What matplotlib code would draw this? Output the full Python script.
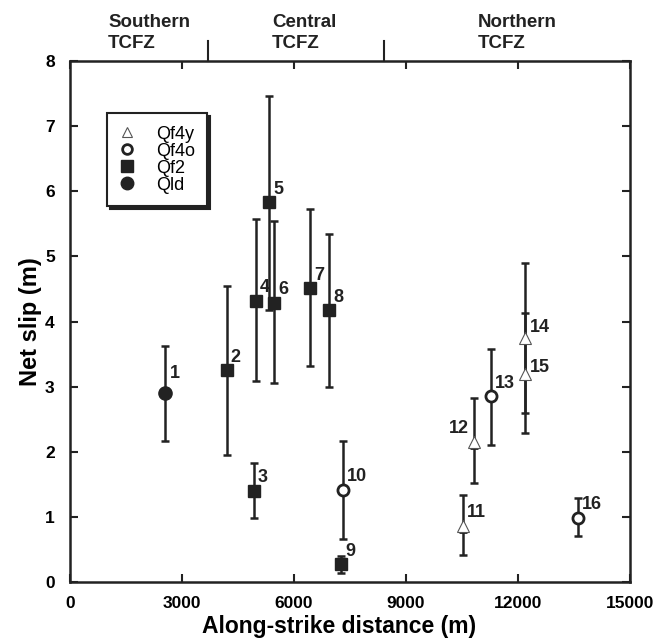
import matplotlib
matplotlib.use('Agg')
import matplotlib.pyplot as plt
from matplotlib.lines import Line2D
import matplotlib.transforms as mtransforms

plt.rcParams['font.family'] = ['Liberation Sans', 'DejaVu Sans']

# site data
site = ['1', '2', '3', '4', '5', '6', '7', '8', '9', '10', '11', '12', '13', '14', '15', '16']
dist = [2550, 4200, 4930, 4980, 5330, 5470, 6430, 6940, 7260, 7310, 10530, 10820, 11280, 12190, 12190, 13610]
slip = [2.90, 3.25, 1.40, 4.32, 5.83, 4.29, 4.51, 4.17, 0.27, 1.42, 0.86, 2.15, 2.85, 3.75, 3.20, 0.99]
slip_lo = [2.17, 1.95, 0.98, 3.08, 4.18, 3.05, 3.32, 3.00, 0.14, 0.66, 0.42, 1.52, 2.10, 2.60, 2.29, 0.71]
slip_hi = [3.62, 4.54, 1.83, 5.57, 7.47, 5.54, 5.72, 5.34, 0.40, 2.17, 1.34, 2.82, 3.58, 4.90, 4.13, 1.29]
unit = ['Qld', 'Qf2', 'Qf2', 'Qf2', 'Qf2', 'Qf2', 'Qf2', 'Qf2', 'Qf2', 'Qf4o',
        'Qf4y', 'Qf4y', 'Qf4o', 'Qf4y', 'Qf4y', 'Qf4o']

zones = ['Southern\nTCFZ', 'Central\nTCFZ', 'Northern\nTCFZ']
zone_text_x = [1020, 5410, 10930]
zone_bounds = [3700, 8400]

legend_order = ['Qf4y', 'Qf4o', 'Qf2', 'Qld']

c = '#222222'
styles = {
    'Qf4y': dict(marker='^', ms=8, mfc='white', mec='#555555', mew=0.8),
    'Qf4o': dict(marker='o', ms=8, mfc='white', mec=c, mew=2),
    'Qf2': dict(marker='s', ms=9, mfc=c, mec=c, mew=1),
    'Qld': dict(marker='o', ms=9.5, mfc=c, mec=c, mew=1),
}

# label offsets in pixels (dx, dy)
lab_off = {'1': (5, 20), '12': (-5, 13), '15': (5, 6), '14': (5, 10)}

fig = plt.figure(figsize=(6.57, 6.41), dpi=100)
ax = fig.add_axes([70 / 657, 59 / 641, 560 / 657, 521 / 641])

for i in range(len(site)):
    st = styles[unit[i]]
    ax.errorbar(dist[i], slip[i],
                yerr=[[slip[i] - slip_lo[i]], [slip_hi[i] - slip[i]]],
                fmt='none', ecolor=c, elinewidth=1.8, capsize=3, capthick=1.8, zorder=2)
    ax.plot(dist[i], slip[i], linestyle='none', zorder=3, **st)
    if unit[i] == 'Qf4y':
        # small cap drawn at base of the triangle
        tr = mtransforms.offset_copy(ax.transData, fig=fig, x=0, y=-4, units='points')
        ax.plot(dist[i], slip[i], marker='_', ms=6, mew=2, color=c, transform=tr, zorder=2)
    dx, dy = lab_off.get(site[i], (4, 13))
    ha = 'right' if dx < 0 else 'left'
    ax.annotate(site[i], (dist[i], slip[i]), xytext=(dx, dy), textcoords='offset pixels',
                ha=ha, va='center', fontsize=13, fontweight='bold', color=c)

ax.set_xlim(0, 15000)
ax.set_ylim(0, 8)
ax.set_xticks([0, 3000, 6000, 9000, 12000, 15000])
ax.set_yticks(range(0, 9))
ax.tick_params(direction='in', top=True, right=True, length=6, width=1.5, color=c,
               labelsize=12.5)
ax.tick_params(axis='x', pad=10)
ax.tick_params(axis='y', pad=11)
for lab in ax.get_xticklabels() + ax.get_yticklabels():
    lab.set_fontweight('bold')
for s in ax.spines.values():
    s.set_linewidth(1.8)
    s.set_color(c)

ax.set_xlabel('Along-strike distance (m)', fontsize=16.5, fontweight='bold', labelpad=3)
ax.xaxis.set_label_coords(0.48, -0.063)
ax.set_ylabel('Net slip (m)', fontsize=17, fontweight='bold', labelpad=2)

# zone header
trans = mtransforms.blended_transform_factory(ax.transData, ax.transAxes)
for b in zone_bounds:
    ax.plot([b, b], [1.0, 1.038], color=c, lw=1.5, transform=trans, clip_on=False)
for name, zx in zip(zones, zone_text_x):
    ax.text(zx, 1.018, name, transform=trans, ha='left', va='bottom', fontsize=13.5,
            fontweight='bold', color=c, linespacing=1.3)

handles = [Line2D([], [], linestyle='none', **styles[u]) for u in legend_order]
handles[0].set_markersize(7)
handles[1].set_markersize(7)
handles[2].set_markersize(9)
handles[3].set_markersize(9)
leg = ax.legend(handles, legend_order, loc='upper left', bbox_to_anchor=(0.066, 0.90),
                borderaxespad=0, frameon=True, fancybox=False, fontsize=13,
                labelspacing=0.0, handletextpad=1.2, borderpad=0.7, handlelength=0.8,
                shadow={'color': c, 'alpha': 1})
leg.get_frame().set_edgecolor(c)
leg.get_frame().set_linewidth(1.5)

fig.savefig('out.png', dpi=100)
